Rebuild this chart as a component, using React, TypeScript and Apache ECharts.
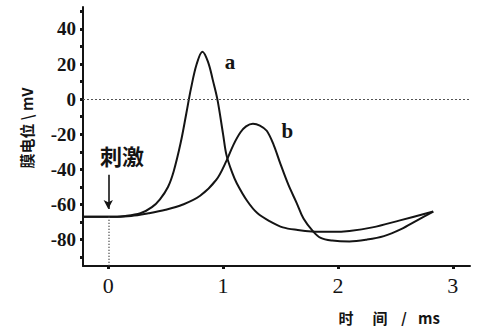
import React, { useEffect, useRef } from "react";
import * as echarts from "echarts";

// Curve a (time ms, membrane potential mV)
const timeA = [-0.22, 0, 0.15, 0.28, 0.38, 0.45, 0.52, 0.57, 0.63, 0.68, 0.72, 0.77, 0.82, 0.87, 0.91, 0.95, 1.0, 1.03, 1.08, 1.12, 1.21, 1.3, 1.42, 1.52, 1.65, 1.77, 1.95, 2.1, 2.3, 2.54, 2.83];
const potentialA = [-67, -67, -66.5, -65, -61.5, -57, -50, -41, -25, -8, 6, 20, 27, 21, 11, 0, -20, -32, -42, -48, -58, -65, -70, -73, -74.5, -75.3, -75.5, -75, -73, -69, -64];

// Curve b
const timeB = [-0.22, 0, 0.2, 0.35, 0.5, 0.65, 0.8, 0.94, 1.03, 1.09, 1.15, 1.2, 1.26, 1.32, 1.38, 1.44, 1.5, 1.57, 1.64, 1.7, 1.78, 1.85, 1.95, 2.1, 2.25, 2.4, 2.55, 2.69, 2.83];
const potentialB = [-67, -67, -66.5, -65, -63, -60, -55, -46, -35, -26, -19, -15.5, -14, -15, -18, -26, -37, -49, -59, -68, -75, -79, -80.5, -81, -80, -78, -74, -69, -64];

const xTickLabels = [0, 1, 2, 3];
const yTickLabels = [-80, -60, -40, -20, 0, 20, 40];
const yTickDots = [-90, -80, -70, -60, -50, -40, -30, -20, -10, 0, 10, 20, 30, 40, 50];

const stimulusTime = 0;
const restingPotential = -67;
const labelA = { name: "a", t: 1.06, v: 21 };
const labelB = { name: "b", t: 1.56, v: -18 };

const xTitleParts = ["时", "间", "/", "ms"];
const yTitle = "膜电位 \\ mV";
const stimulusText = "刺激";

const INK = "#141414";

export default function App() {
  const ref = useRef<HTMLDivElement>(null);

  useEffect(() => {
    if (!ref.current) return;
    const chart = echarts.init(ref.current, null, { renderer: "svg" });
    const dataA = timeA.map((t, i) => [t, potentialA[i]]);
    const dataB = timeB.map((t, i) => [t, potentialB[i]]);
    const numFont = "'Liberation Serif', 'DejaVu Serif', serif";
    const cjkFont = "'Noto Sans CJK SC', sans-serif";
    const xTitleX = [346, 380, 404, 429];

    chart.setOption({
      animation: false,
      backgroundColor: "#ffffff",
      grid: { left: 83, right: 9, top: 7, bottom: 60, containLabel: false },
      xAxis: {
        type: "value",
        min: -0.22,
        max: 3.15,
        splitLine: { show: false },
        axisLine: { show: true, onZero: false, lineStyle: { color: INK, width: 2 } },
        axisTick: { show: true, customValues: xTickLabels, length: 3, inside: false, lineStyle: { color: INK, width: 3 } },
        axisLabel: { customValues: xTickLabels, color: INK, fontSize: 22, fontFamily: numFont, margin: 8 },
      },
      yAxis: {
        type: "value",
        min: -95,
        max: 52.5,
        splitLine: { show: false },
        axisLine: { show: true, onZero: false, lineStyle: { color: INK, width: 2 } },
        axisTick: { show: true, customValues: yTickDots, length: 3, lineStyle: { color: INK, width: 3 } },
        axisLabel: { customValues: yTickLabels, color: INK, fontSize: 19, fontWeight: "bold", fontFamily: numFont, margin: 7 },
      },
      series: [
        {
          type: "line",
          data: dataA,
          smooth: 0.35,
          symbol: "none",
          lineStyle: { color: INK, width: 2 },
          markLine: {
            silent: true,
            symbol: ["none", "none"],
            label: { show: false },
            data: [
              [
                { coord: [-0.22, 0], lineStyle: { type: [2, 2], color: "#555", width: 1.2 } },
                { coord: [3.15, 0] },
              ],
              [
                { coord: [stimulusTime, restingPotential], lineStyle: { type: [1, 2], color: "#444", width: 1.5 } },
                { coord: [stimulusTime, -95] },
              ],
              [
                { coord: [stimulusTime, -43], symbol: "none", lineStyle: { type: "solid", color: INK, width: 1.6 } },
                { coord: [stimulusTime, -62.5], symbol: "arrow", symbolSize: [7, 9] },
              ],
            ],
          },
          markPoint: {
            symbol: "circle",
            symbolSize: 0,
            data: [
              {
                coord: [labelA.t, labelA.v],
                label: { show: true, formatter: labelA.name, color: INK, fontSize: 21, fontWeight: "bold", fontFamily: numFont },
              },
            ],
          },
        },
        {
          type: "line",
          data: dataB,
          smooth: 0.35,
          symbol: "none",
          lineStyle: { color: INK, width: 2 },
          markPoint: {
            symbol: "circle",
            symbolSize: 0,
            data: [
              {
                coord: [labelB.t, labelB.v],
                label: { show: true, formatter: labelB.name, color: INK, fontSize: 21, fontWeight: "bold", fontFamily: numFont },
              },
            ],
          },
        },
      ],
      graphic: [
        {
          type: "text",
          x: 26,
          y: 128,
          rotation: Math.PI / 2,
          style: {
            text: yTitle,
            fill: INK,
            font: `bold 15px ${cjkFont}`,
            align: "center",
            verticalAlign: "middle",
          },
        },
        {
          type: "text",
          x: 122,
          y: 155,
          style: {
            text: stimulusText,
            fill: INK,
            font: `bold 22px ${cjkFont}`,
            align: "center",
            verticalAlign: "middle",
          },
        },
        ...xTitleParts.map((p, i) => ({
          type: "text",
          x: xTitleX[i],
          y: 317,
          style: {
            text: p,
            fill: INK,
            font: `bold 15px ${cjkFont}`,
            align: "center",
            verticalAlign: "middle",
          },
        })),
      ],
    });
    return () => chart.dispose();
  }, []);

  return <div ref={ref} style={{ width: 479, height: 326, position: "absolute", left: 0, top: 0 }} />;
}
